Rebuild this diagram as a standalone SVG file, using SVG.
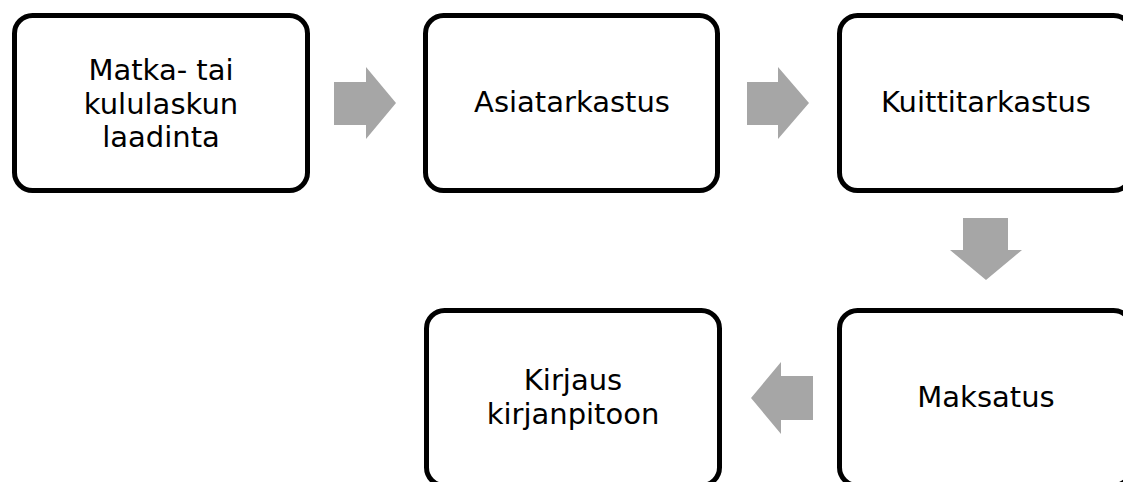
<svg xmlns="http://www.w3.org/2000/svg" width="1123" height="482" viewBox="0 0 1123 482">
  <style>
    .box { fill: #ffffff; stroke: #000000; stroke-width: 5; }
    .lbl { font-family: "DejaVu Sans", Verdana, sans-serif; font-size: 29px; fill: #000000; text-anchor: middle; }
    .arrow { fill: #A6A6A6; stroke: none; }
  </style>
  <rect width="1123" height="482" fill="#ffffff"/>

  <g id="connectors">
    <polygon class="arrow" points="334,82 366,82 366,67 396,103 366,139 366,125 334,125"/>
    <polygon class="arrow" points="747,82 778,82 778,67 809,103 778,139 778,125 747,125"/>
    <polygon class="arrow" points="963,218 1008,218 1008,250 1022,250 986,280 950,250 963,250"/>
    <polygon class="arrow" points="813,376 781,376 781,362 751,398 781,434 781,420 813,420"/>
  </g>

  <g id="node-laadinta">
    <rect class="box" x="14.5" y="15.5" width="293" height="175" rx="18"/>
    <text class="lbl" x="161" y="80">Matka- tai</text>
    <text class="lbl" x="161" y="113.5">kululaskun</text>
    <text class="lbl" x="161" y="147">laadinta</text>
  </g>

  <g id="node-asiatarkastus">
    <rect class="box" x="425.5" y="15.5" width="292" height="175" rx="18"/>
    <text class="lbl" x="572" y="112">Asiatarkastus</text>
  </g>

  <g id="node-kuittitarkastus">
    <rect class="box" x="839.5" y="15.5" width="292" height="175" rx="18"/>
    <text class="lbl" x="986" y="112">Kuittitarkastus</text>
  </g>

  <g id="node-maksatus">
    <rect class="box" x="839.5" y="310.5" width="292" height="175" rx="18"/>
    <text class="lbl" x="986" y="407">Maksatus</text>
  </g>

  <g id="node-kirjaus">
    <rect class="box" x="426.5" y="310.5" width="293" height="175" rx="18"/>
    <text class="lbl" x="573" y="390">Kirjaus</text>
    <text class="lbl" x="573" y="424">kirjanpitoon</text>
  </g>
</svg>
